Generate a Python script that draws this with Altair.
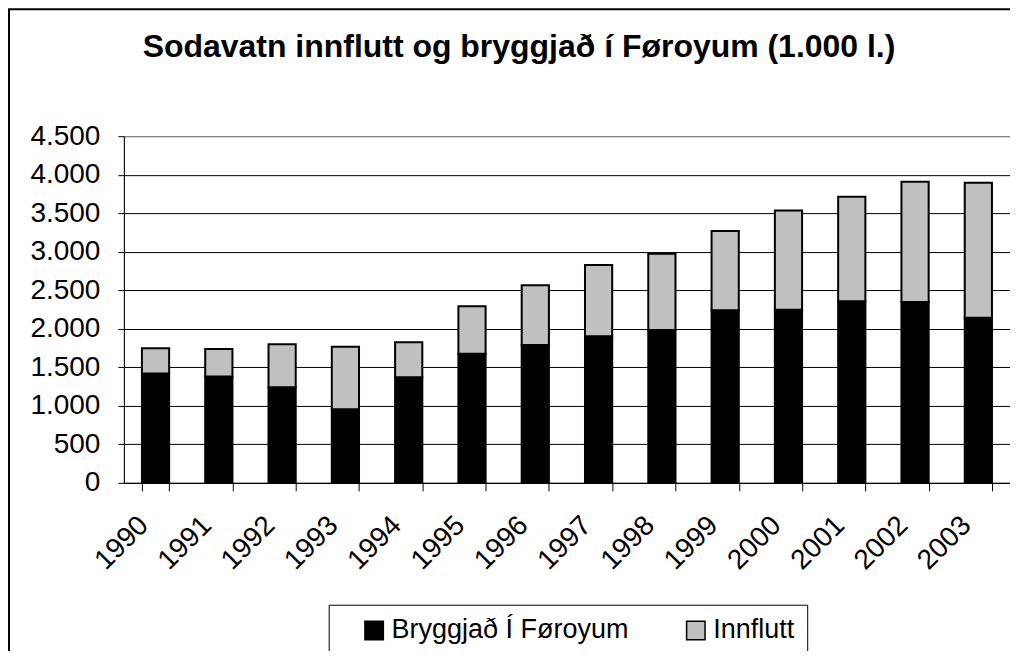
import altair as alt
import pandas as pd

years = ["1990", "1991", "1992", "1993", "1994", "1995", "1996",
         "1997", "1998", "1999", "2000", "2001", "2002", "2003"]
bryggjad = [1418, 1379, 1241, 956, 1371, 1677, 1790, 1902, 1984, 2240, 2248, 2356, 2348, 2144]
innflutt = [329, 359, 558, 812, 454, 614, 774, 925, 990, 1028, 1288, 1358, 1560, 1751]
series = ["Bryggjað Í Føroyum", "Innflutt"]
colors = ["#000000", "#C0C0C0"]
y_ticks = [0, 500, 1000, 1500, 2000, 2500, 3000, 3500, 4000, 4500]
title_text = "Sodavatn innflutt og bryggjað í Føroyum (1.000 l.)"

rows = []
for i, yr in enumerate(years):
    rows.append({"year": yr, "series": series[0], "value": bryggjad[i], "ord": 0})
    rows.append({"year": yr, "series": series[1], "value": innflutt[i], "ord": 1})
df = pd.DataFrame(rows)

FONT = "Liberation Sans"

bars = alt.Chart(df).mark_bar(stroke="black", strokeWidth=2).encode(
    x=alt.X("year:N", title=None, sort=years,
            scale=alt.Scale(paddingInner=0.57, paddingOuter=0.285),
            axis=alt.Axis(labelAngle=315, labelAlign="right", labelBaseline="middle",
                          labelPadding=30, labelOffset=-12, tickBand="extent",
                          tickSize=8, tickColor="black", domainColor="black",
                          labelFontSize=28, labelFont=FONT, labelColor="black",
                          grid=False)),
    y=alt.Y("value:Q", title=None, stack="zero",
            scale=alt.Scale(domain=[0, 4500], nice=False),
            axis=alt.Axis(values=y_ticks, tickSize=6, tickColor="black",
                          domainColor="black", labelPadding=18,
                          labelFontSize=28, labelFont=FONT, labelColor="black",
                          labelExpr="replace(format(datum.value, ','), ',', '.')",
                          grid=True,
                          gridColor={"condition": {"test": "datum.value >= 4500", "value": "#808080"},
                                     "value": "black"})),
    color=alt.Color("series:N", scale=alt.Scale(domain=series, range=colors),
                    legend=alt.Legend(title=None, orient="none", legendX=205, legendY=469,
                                      direction="horizontal", strokeColor="black",
                                      padding=12, labelFontSize=27, labelFont=FONT,
                                      labelColor="black", symbolType="square",
                                      symbolSize=340, symbolStrokeColor="black",
                                      symbolStrokeWidth=1.5, symbolOffset=20,
                                      columnPadding=33,
                                      labelOffset=4, labelLimit=600)),
    order=alt.Order("ord:Q"),
)

frame = alt.Chart(alt.Data(values=[{}])).mark_rect(
    filled=False, stroke="black", strokeWidth=2
).encode(
    x=alt.value(-115), x2=alt.value(1100), y=alt.value(-127), y2=alt.value(700)
)

chart = alt.layer(bars, frame).properties(
    width=887, height=347,
    autosize=alt.AutoSizeParams(type="none"),
    padding={"left": 116, "top": 128, "right": 0, "bottom": 168},
    title=alt.Title(title_text, font=FONT, fontSize=32, fontWeight="bold",
                    color="black", anchor="middle", dx=-48, offset=0, dy=81,
                    baseline="alphabetic"),
).configure_view(stroke="#808080", strokeWidth=1)

chart.save("out.html", embed_options={"renderer": "svg", "actions": False})
